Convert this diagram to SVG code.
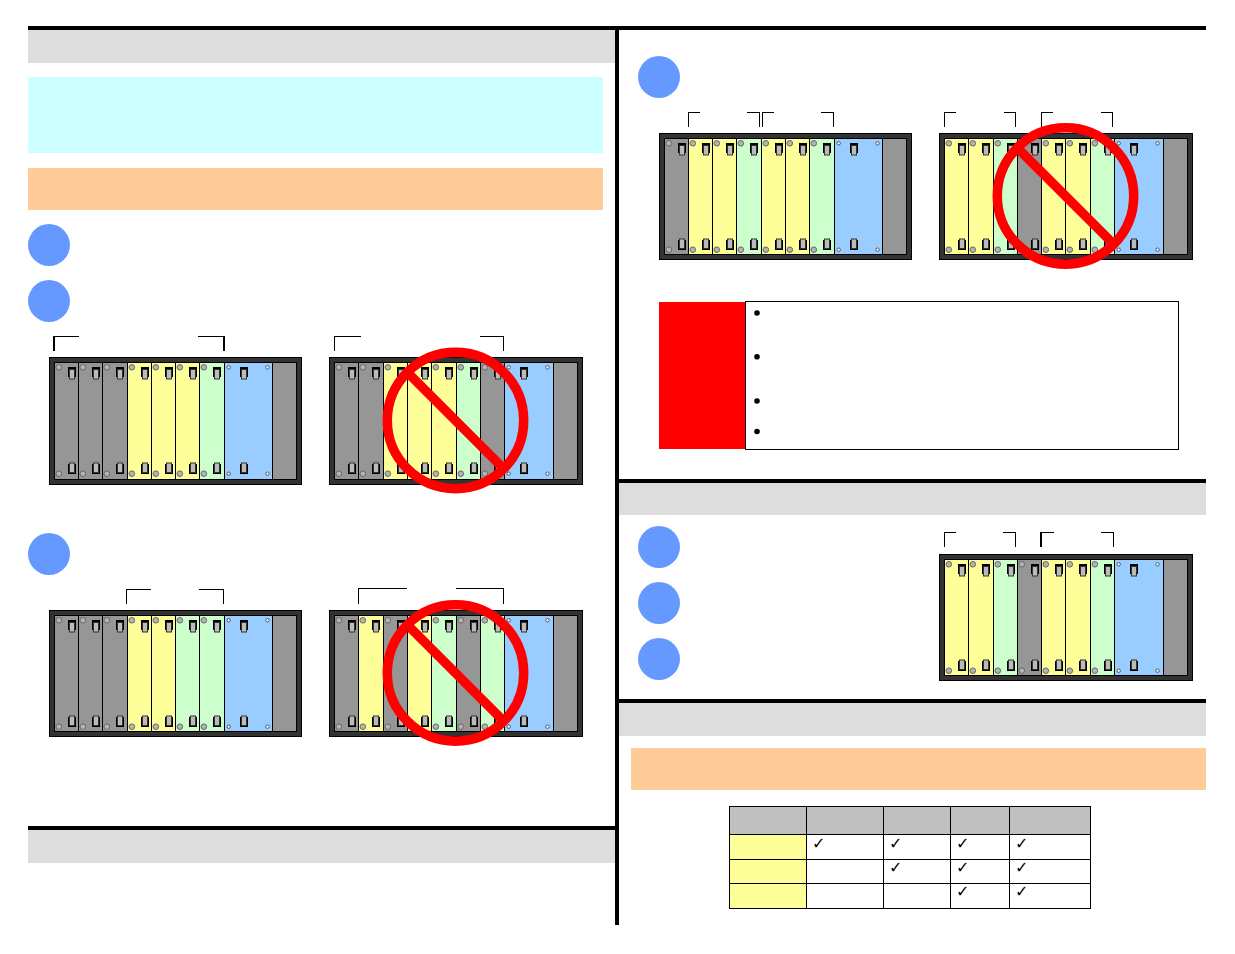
<svg xmlns="http://www.w3.org/2000/svg" xmlns:xlink="http://www.w3.org/1999/xlink" width="1235" height="954" viewBox="0 0 1235 954">
<style>
.bar{fill:#000}.hd{fill:#ddd}.cy{fill:#ccffff}.or{fill:#ffcc99}.st{fill:#6699ff}
.y,.g,.k,.b{stroke:#000;stroke-width:1}
.y{fill:#ffff99}.g{fill:#ccffcc}.k{fill:#969696}.b{fill:#99ccff}
.case{fill:#333;stroke:#000;stroke-width:1}
.kn{fill:#b4b4b4;stroke:#666;stroke-width:1}.dot{fill:#fff;stroke:#444;stroke-width:.9}
.hb{fill:#000}.hg{fill:#bbb;stroke:#333;stroke-width:1}
.br{fill:none;stroke:#000;stroke-width:1;shape-rendering:crispEdges}
.brt{fill:none;stroke:#000;stroke-width:2;shape-rendering:crispEdges}
.no{fill:none;stroke:#f00;stroke-width:9.5}
.cell{fill:#fff;stroke:#000;stroke-width:1}.th{fill:#c0c0c0;stroke:#000;stroke-width:1}.ty{fill:#ffff99;stroke:#000;stroke-width:1}
.ck{font-family:"DejaVu Sans",sans-serif;font-size:16px;fill:#000}
</style>
<defs>
<g id="handles">
<rect class="hb" x="0" y="4.5" width="8" height="10"/><rect class="hg" x="1.5" y="7" width="5" height="9.5"/>
<rect class="hb" x="0" y="101.5" width="8" height="10"/><rect class="hg" x="1.5" y="100.5" width="5" height="9.5"/>
</g>
<g id="fit">
<circle class="kn" cx="4.3" cy="4.8" r="2.8"/><circle class="kn" cx="4.3" cy="111.2" r="2.8"/>
<use xlink:href="#handles" href="#handles" x="13.5"/>
</g>
<g id="fitb">
<circle class="dot" cx="4.2" cy="4.8" r="1.7"/><circle class="dot" cx="43" cy="4.8" r="1.7"/>
<circle class="dot" cx="4.2" cy="111.2" r="1.7"/><circle class="dot" cx="43" cy="111.2" r="1.7"/>
<use xlink:href="#handles" href="#handles" x="15.5"/>
</g>
<g id="no"><circle class="no" r="68.2"/><line class="no" x1="-48" y1="-48" x2="48" y2="48"/></g>
</defs>

<g id="frame">
<rect class="hd" x="28" y="30" width="587" height="33"/>
<rect class="cy" x="28" y="77" width="575" height="76"/>
<rect class="or" x="28" y="168" width="575" height="42"/>
<rect class="hd" x="28" y="830" width="587" height="33"/>
<rect class="hd" x="619" y="483" width="587" height="32"/>
<rect class="hd" x="619" y="703" width="587" height="33"/>
<rect class="or" x="631" y="748" width="575" height="42"/>
<rect class="bar" x="28" y="26" width="1178" height="4"/>
<rect class="bar" x="615" y="26" width="4" height="899"/>
<rect class="bar" x="28" y="826" width="587" height="4"/>
<rect class="bar" x="619" y="479" width="587" height="4"/>
<rect class="bar" x="619" y="699" width="587" height="4"/>
</g>

<g id="steps">
<circle id="step-1" class="st" cx="49" cy="245" r="21"/>
<circle id="step-2" class="st" cx="49" cy="301" r="21"/>
<circle id="step-3" class="st" cx="49" cy="554" r="21"/>
<circle id="step-4" class="st" cx="659" cy="77" r="21"/>
<circle id="step-5" class="st" cx="659" cy="547" r="21"/>
<circle id="step-6" class="st" cx="659" cy="603" r="21"/>
<circle id="step-7" class="st" cx="659" cy="659" r="21"/>
</g>

<g id="rack-1" transform="translate(49,357)">
<rect class="case" x=".5" y=".5" width="252" height="127"/>
<g transform="translate(5.5,5.5)">
<rect class="k" x="0" width="24" height="117"/><rect class="k" x="24" width="24" height="117"/><rect class="k" x="48" width="25" height="117"/><rect class="y" x="73" width="24" height="117"/><rect class="y" x="97" width="24" height="117"/><rect class="y" x="121" width="24" height="117"/><rect class="g" x="145" width="25" height="117"/><rect class="b" x="170" width="48" height="117"/><rect class="k" x="218" width="24" height="117"/>
<use href="#fit" x="0"/><use href="#fit" x="24"/><use href="#fit" x="48"/><use href="#fit" x="73"/><use href="#fit" x="97"/><use href="#fit" x="121"/><use href="#fit" x="145"/><use href="#fitb" x="170"/>
</g>
</g>

<g id="rack-2" transform="translate(329,357)">
<rect class="case" x=".5" y=".5" width="253" height="127"/>
<g transform="translate(5.5,5.5)">
<rect class="k" x="0" width="24" height="117"/><rect class="k" x="24" width="25" height="117"/><rect class="y" x="49" width="24" height="117"/><rect class="y" x="73" width="24" height="117"/><rect class="y" x="97" width="25" height="117"/><rect class="g" x="122" width="24" height="117"/><rect class="k" x="146" width="24" height="117"/><rect class="b" x="170" width="49" height="117"/><rect class="k" x="219" width="24" height="117"/>
<use href="#fit" x="0"/><use href="#fit" x="24"/><use href="#fit" x="49"/><use href="#fit" x="73"/><use href="#fit" x="97"/><use href="#fit" x="122"/><use href="#fit" x="146"/><use href="#fitb" x="170"/>
</g>
</g>
<use id="no-1" href="#no" x="455.5" y="420.5"/>

<g id="rack-3" transform="translate(49,610)">
<rect class="case" x=".5" y=".5" width="252" height="126"/>
<g transform="translate(5.5,5.5)">
<rect class="k" x="0" width="24" height="116"/><rect class="k" x="24" width="24" height="116"/><rect class="k" x="48" width="25" height="116"/><rect class="y" x="73" width="24" height="116"/><rect class="y" x="97" width="24" height="116"/><rect class="g" x="121" width="24" height="116"/><rect class="g" x="145" width="25" height="116"/><rect class="b" x="170" width="48" height="116"/><rect class="k" x="218" width="24" height="116"/>
<use href="#fit" x="0"/><use href="#fit" x="24"/><use href="#fit" x="48"/><use href="#fit" x="73"/><use href="#fit" x="97"/><use href="#fit" x="121"/><use href="#fit" x="145"/><use href="#fitb" x="170"/>
</g>
</g>

<g id="rack-4" transform="translate(329,610)">
<rect class="case" x=".5" y=".5" width="253" height="126"/>
<g transform="translate(5.5,5.5)">
<rect class="k" x="0" width="24" height="116"/><rect class="y" x="24" width="25" height="116"/><rect class="k" x="49" width="24" height="116"/><rect class="y" x="73" width="24" height="116"/><rect class="g" x="97" width="25" height="116"/><rect class="k" x="122" width="24" height="116"/><rect class="g" x="146" width="24" height="116"/><rect class="b" x="170" width="49" height="116"/><rect class="k" x="219" width="24" height="116"/>
<use href="#fit" x="0"/><use href="#fit" x="24"/><use href="#fit" x="49"/><use href="#fit" x="73"/><use href="#fit" x="97"/><use href="#fit" x="122"/><use href="#fit" x="146"/><use href="#fitb" x="170"/>
</g>
</g>
<use id="no-2" href="#no" x="455.5" y="673"/>

<g id="rack-5" transform="translate(659,133)">
<rect class="case" x=".5" y=".5" width="252" height="126"/>
<g transform="translate(5.5,5.5)">
<rect class="k" x="0" width="24" height="116"/><rect class="y" x="24" width="24" height="116"/><rect class="y" x="48" width="24" height="116"/><rect class="g" x="72" width="25" height="116"/><rect class="y" x="97" width="24" height="116"/><rect class="y" x="121" width="24" height="116"/><rect class="g" x="145" width="25" height="116"/><rect class="b" x="170" width="48" height="116"/><rect class="k" x="218" width="24" height="116"/>
<use href="#fit" x="0"/><use href="#fit" x="24"/><use href="#fit" x="48"/><use href="#fit" x="72"/><use href="#fit" x="97"/><use href="#fit" x="121"/><use href="#fit" x="145"/><use href="#fitb" x="170"/>
</g>
</g>

<g id="rack-6" transform="translate(939,133)">
<rect class="case" x=".5" y=".5" width="253" height="126"/>
<g transform="translate(5.5,5.5)">
<rect class="y" x="0" width="24" height="116"/><rect class="y" x="24" width="25" height="116"/><rect class="g" x="49" width="24" height="116"/><rect class="k" x="73" width="24" height="116"/><rect class="y" x="97" width="24" height="116"/><rect class="y" x="121" width="25" height="116"/><rect class="g" x="146" width="24" height="116"/><rect class="b" x="170" width="49" height="116"/><rect class="k" x="219" width="24" height="116"/>
<use href="#fit" x="0"/><use href="#fit" x="24"/><use href="#fit" x="49"/><use href="#fit" x="73"/><use href="#fit" x="97"/><use href="#fit" x="121"/><use href="#fit" x="146"/><use href="#fitb" x="170"/>
</g>
</g>
<use id="no-3" href="#no" x="1065.5" y="196"/>

<g id="rack-7" transform="translate(939,554)">
<rect class="case" x=".5" y=".5" width="253" height="126"/>
<g transform="translate(5.5,5.5)">
<rect class="y" x="0" width="24" height="116"/><rect class="y" x="24" width="25" height="116"/><rect class="g" x="49" width="24" height="116"/><rect class="k" x="73" width="24" height="116"/><rect class="y" x="97" width="24" height="116"/><rect class="y" x="121" width="25" height="116"/><rect class="g" x="146" width="24" height="116"/><rect class="b" x="170" width="49" height="116"/><rect class="k" x="219" width="24" height="116"/>
<use href="#fit" x="0"/><use href="#fit" x="24"/><use href="#fit" x="49"/><use href="#fit" x="73"/><use href="#fit" x="97"/><use href="#fit" x="121"/><use href="#fit" x="146"/><use href="#fitb" x="170"/>
</g>
</g>

<g id="connectors">
<path class="br" d="M54 336.5H79M198 336.5H224"/><path class="brt" d="M54 336V351M224 336V351"/>
<path class="br" d="M334.5 351V336.5H361M480 336.5H503.5V351"/>
<path class="br" d="M126.5 604V589.5H151M199 589.5H223.5V604"/>
<path class="br" d="M358.5 604V588.5H407M456 588.5H503.5V604"/>
<path class="br" d="M688.5 127V112.5H700M747 112.5H759.5V127M762.5 127V112.5H774M821 112.5H833.5V127"/>
<path class="br" d="M944.5 127V112.5H956M1004 112.5H1015.5V127M1041.5 127V112.5H1053M1101 112.5H1112.5V127"/>
<path class="br" d="M944.5 547V532.5H956M1003 532.5H1015.5V547M1041 532.5H1054M1101 532.5H1113.5V547"/><path class="brt" d="M1041 532V547"/>
</g>

<g id="warning">
<rect x="659" y="302" width="86" height="147" fill="#f00"/>
<rect x="745.5" y="301.5" width="433" height="148" fill="#fff" stroke="#000"/>
<circle cx="757" cy="313" r="2.8"/><circle cx="757" cy="356.7" r="2.8"/><circle cx="757" cy="401" r="2.8"/><circle cx="757" cy="431.5" r="2.8"/>
</g>

<g id="table">
<rect class="th" x="729.5" y="806.5" width="77" height="28"/><rect class="th" x="806.5" y="806.5" width="77" height="28"/><rect class="th" x="883.5" y="806.5" width="67" height="28"/><rect class="th" x="950.5" y="806.5" width="59" height="28"/><rect class="th" x="1009.5" y="806.5" width="81" height="28"/>
<rect class="ty" x="729.5" y="834.5" width="77" height="25"/><rect class="cell" x="806.5" y="834.5" width="77" height="25"/><rect class="cell" x="883.5" y="834.5" width="67" height="25"/><rect class="cell" x="950.5" y="834.5" width="59" height="25"/><rect class="cell" x="1009.5" y="834.5" width="81" height="25"/>
<rect class="ty" x="729.5" y="859.5" width="77" height="24"/><rect class="cell" x="806.5" y="859.5" width="77" height="24"/><rect class="cell" x="883.5" y="859.5" width="67" height="24"/><rect class="cell" x="950.5" y="859.5" width="59" height="24"/><rect class="cell" x="1009.5" y="859.5" width="81" height="24"/>
<rect class="ty" x="729.5" y="883.5" width="77" height="25"/><rect class="cell" x="806.5" y="883.5" width="77" height="25"/><rect class="cell" x="883.5" y="883.5" width="67" height="25"/><rect class="cell" x="950.5" y="883.5" width="59" height="25"/><rect class="cell" x="1009.5" y="883.5" width="81" height="25"/>
<text class="ck" x="812" y="849">✓</text><text class="ck" x="889" y="849">✓</text><text class="ck" x="956" y="849">✓</text><text class="ck" x="1015" y="849">✓</text>
<text class="ck" x="889" y="873">✓</text><text class="ck" x="956" y="873">✓</text><text class="ck" x="1015" y="873">✓</text>
<text class="ck" x="956" y="897">✓</text><text class="ck" x="1015" y="897">✓</text>
</g>
</svg>
